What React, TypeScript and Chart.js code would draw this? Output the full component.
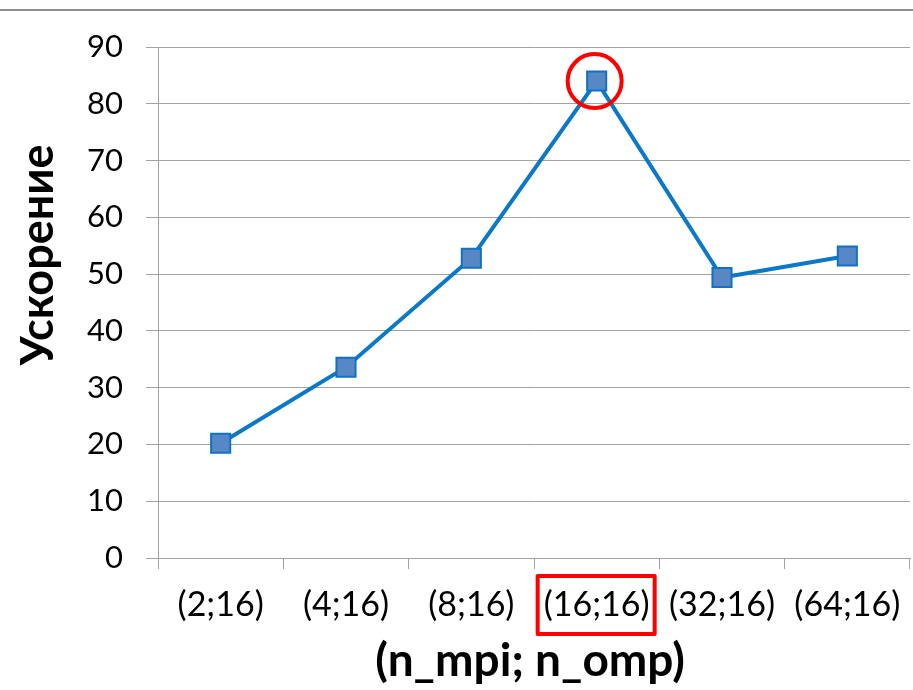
import React, { useEffect, useRef } from 'react';
import { Chart, registerables } from 'chart.js';

Chart.register(...registerables);

const categories = ['(2;16)', '(4;16)', '(8;16)', '(16;16)', '(32;16)', '(64;16)'];
const speedup = [20.2, 33.6, 52.8, 84.0, 49.4, 53.2];
const yTicksMin = 0;
const yTicksMax = 90;
const yTicksStep = 10;
const yTitle = 'Ускорение';
const xTitle = '(n_mpi; n_omp)';
const highlightIndex = 3;

const FONT = 'Lato, "Noto Sans", sans-serif';
const GRID = '#a3a3a3';

const overlayPlugin = {
  id: 'overlay',
  afterDraw(chart: any) {
    const { ctx, chartArea } = chart;
    ctx.save();
    // Y title
    ctx.fillStyle = '#000';
    ctx.font = `bold 45px ${FONT}`;
    ctx.textAlign = 'center';
    ctx.textBaseline = 'alphabetic';
    ctx.save();
    ctx.translate(chartArea.left - 105, chartArea.top + 208);
    ctx.rotate(-Math.PI / 2);
    ctx.fillText(yTitle, 0, 0);
    ctx.restore();
    // X title
    ctx.font = `bold 46px ${FONT}`;
    ctx.fillText(xTitle, (chartArea.left + chartArea.right) / 2 - 4, chartArea.bottom + 118);

    // red circle around highlighted point
    const pt = chart.getDatasetMeta(0).data[highlightIndex];
    ctx.strokeStyle = '#ff0000';
    ctx.lineWidth = 4;
    ctx.beginPath();
    ctx.arc(pt.x - 2, pt.y, 27, 0, Math.PI * 2);
    ctx.stroke();

    // red rectangle around highlighted tick label
    const xs = chart.scales.x;
    const cx = xs.getPixelForTick(highlightIndex);
    const x0 = cx - 59;
    const x1 = cx + 58;
    const y0 = xs.top + 18;
    const y1 = xs.top + 76;
    ctx.lineWidth = 4;
    ctx.lineJoin = 'round';
    ctx.strokeRect(x0, y0, x1 - x0, y1 - y0);
    ctx.restore();
  },
};

export default function App() {
  const ref = useRef<HTMLCanvasElement | null>(null);
  useEffect(() => {
    if (!ref.current) return;
    const chart = new Chart(ref.current, {
      type: 'line',
      data: {
        labels: categories,
        datasets: [
          {
            data: speedup,
            borderColor: '#0B78C8',
            borderWidth: 4,
            pointStyle: 'rect',
            pointRadius: 13.5,
            pointBackgroundColor: '#5787C5',
            pointBorderColor: '#1272C2',
            pointBorderWidth: 2,
            tension: 0,
            fill: false,
            clip: false,
          },
        ],
      },
      options: {
        responsive: false,
        animation: false,
        events: [],
        layout: { autoPadding: false, padding: { top: 47, right: 3, left: 0, bottom: 0 } },
        plugins: { legend: { display: false }, tooltip: { enabled: false }, title: { display: false } },
        scales: {
          x: {
            type: 'category',
            offset: true,
            grid: { offset: true, drawOnChartArea: false, drawTicks: true, tickLength: 11, color: GRID, lineWidth: 1 },
            border: { display: true, color: GRID, width: 1 },
            ticks: { font: { family: FONT, size: 34 }, color: '#000', padding: 16, maxRotation: 0, autoSkip: false },
            afterFit: (s: any) => {
              s.height = 132;
              s.paddingLeft = 0;
              s.paddingRight = 0;
            },
          },
          y: {
            min: yTicksMin,
            max: yTicksMax,
            ticks: { stepSize: yTicksStep, font: { family: FONT, size: 31 }, color: '#000', padding: 23 },
            grid: { color: GRID, tickLength: 12, lineWidth: 1 },
            border: { display: true, color: GRID, width: 1 },
            afterFit: (s: any) => {
              s.width = 158;
              s.paddingTop = 0;
              s.paddingBottom = 0;
            },
          },
        },
      },
      plugins: [overlayPlugin],
    });
    return () => chart.destroy();
  }, []);

  return (
    <div style={{ position: 'fixed', left: 0, top: 0, width: 913, height: 690, background: '#fff', overflow: 'hidden' }}>
      <div style={{ position: 'absolute', left: 0, top: 9, width: 913, height: 2, background: '#8e8e8e' }} />
      <canvas ref={ref} width={913} height={690} style={{ display: 'block' }} />
    </div>
  );
}
